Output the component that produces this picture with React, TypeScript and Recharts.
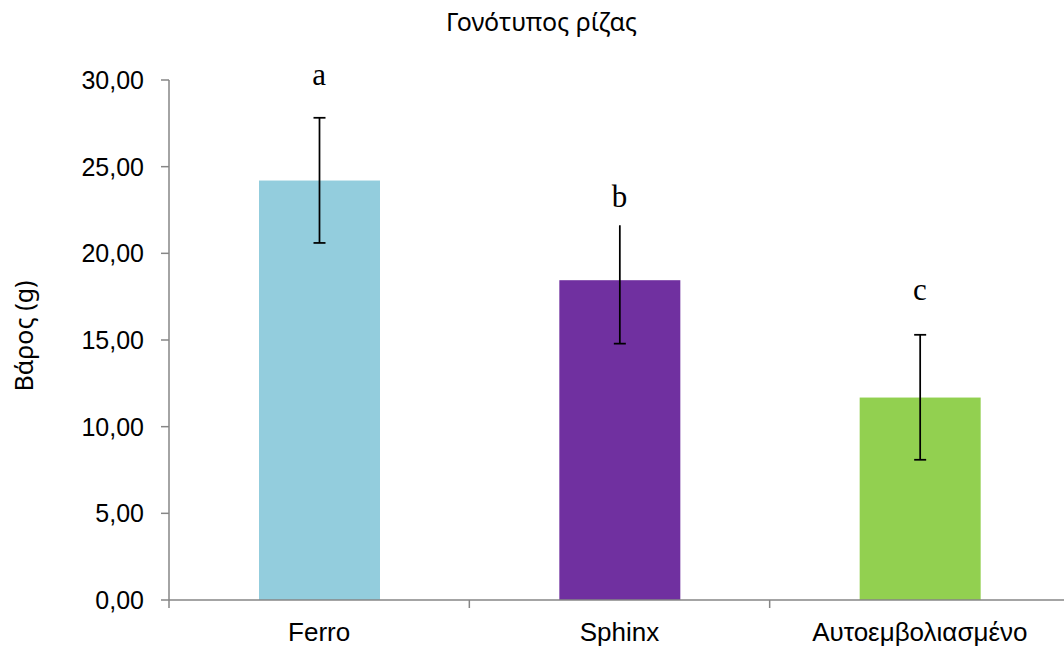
import React from 'react';
import { ComposedChart, Bar, Scatter, XAxis, YAxis } from 'recharts';

const categories = ['Ferro', 'Sphinx', 'Αυτοεμβολιασμένο'];
const means = [24.2, 18.45, 11.68];
const errLow = [3.6, 3.66, 3.59];
const errHigh = [3.62, 3.17, 3.62];
const letters = ['a', 'b', 'c'];
const letterLevel = [29.74, 22.66, 17.28];
const yTicks = [0, 5, 10, 15, 20, 25, 30];

const barColors = ['#93CDDD', '#7030A0', '#92D050'];
const showTopCap = [true, false, true];

const data = categories.map((name, i) => ({
  name,
  mean: means[i],
  low: errLow[i],
  high: errHigh[i],
  letter: letters[i],
  letterY: letterLevel[i],
}));

const AXIS = '#868686';
const SANS = '"Liberation Sans", Arial, sans-serif';
const TITLE_FONT = '"Noto Sans", "Open Sans", sans-serif';

function BarWithError(props: any) {
  const { x, y, width, height, payload } = props;
  const idx = typeof props.index === 'number' ? props.index : categories.indexOf(payload.name);
  const k = height / payload.mean;
  const cx = x + width / 2;
  const top = y - payload.high * k;
  const bottom = y + payload.low * k;
  const cap = 6;
  return (
    <g>
      <rect x={x} y={y} width={width} height={height} fill={barColors[idx]} />
      <line x1={cx} x2={cx} y1={top} y2={bottom} stroke="#000" strokeWidth={1.75} />
      {showTopCap[idx] && (
        <line x1={cx - cap} x2={cx + cap} y1={top} y2={top} stroke="#000" strokeWidth={1.75} />
      )}
      <line x1={cx - cap} x2={cx + cap} y1={bottom} y2={bottom} stroke="#000" strokeWidth={1.75} />
    </g>
  );
}

function LetterMark(props: any) {
  const { cx, cy, payload } = props;
  return (
    <text
      x={cx}
      y={cy}
      textAnchor="middle"
      fontFamily='"Liberation Serif", "Times New Roman", serif'
      fontSize={31}
      fill="#000"
    >
      {payload.letter}
    </text>
  );
}

function XTick(props: any) {
  const { x, y, payload } = props;
  const off = payload && payload.offset ? payload.offset : 150;
  return (
    <g>
      <line x1={x - off} x2={x - off} y1={y - 8} y2={y} stroke={AXIS} strokeWidth={1.5} />
      <text x={x} y={y + 32.5} textAnchor="middle" fontSize={26} fontFamily={SANS} fill="#000">
        {payload.value}
      </text>
    </g>
  );
}

const fmt = (v: number) => v.toFixed(2).replace('.', ',');

export default function App() {
  return (
    <div
      style={{
        position: 'absolute',
        left: 0,
        top: 0,
        width: 1064,
        height: 648,
        overflow: 'hidden',
        background: '#fff',
      }}
    >
      <ComposedChart
        width={1072}
        height={648}
        data={data}
        margin={{ top: 80, right: 2, bottom: 0, left: 0 }}
        style={{ overflow: 'visible' }}
      >
        <XAxis
          dataKey="name"
          height={48}
          axisLine={{ stroke: AXIS, strokeWidth: 1.5 }}
          tickLine={false}
          tickSize={8}
          tickMargin={0}
          tick={<XTick />}
          interval={0}
        />
        <YAxis
          width={169}
          domain={[0, 30]}
          ticks={yTicks}
          tickFormatter={fmt}
          axisLine={{ stroke: AXIS, strokeWidth: 1.5 }}
          tickLine={{ stroke: AXIS, strokeWidth: 1.5 }}
          tickSize={8}
          tickMargin={17}
          tick={{ fill: '#000', fontSize: 25, fontFamily: SANS }}
        />
        <Bar dataKey="mean" barSize={121} shape={<BarWithError />} isAnimationActive={false} />
        <Scatter dataKey="letterY" shape={<LetterMark />} isAnimationActive={false} />
      </ComposedChart>
      <svg
        width={1064}
        height={648}
        style={{ position: 'absolute', left: 0, top: 0, pointerEvents: 'none' }}
      >
        <text x={541.5} y={31} textAnchor="middle" fontFamily={TITLE_FONT} fontSize={25} fill="#000">
          Γονότυπος ρίζας
        </text>
        <text
          transform="translate(33,336) rotate(-90)"
          textAnchor="middle"
          fontFamily={TITLE_FONT}
          fontSize={25}
          fill="#000"
        >
          Βάρος (g)
        </text>
      </svg>
    </div>
  );
}
